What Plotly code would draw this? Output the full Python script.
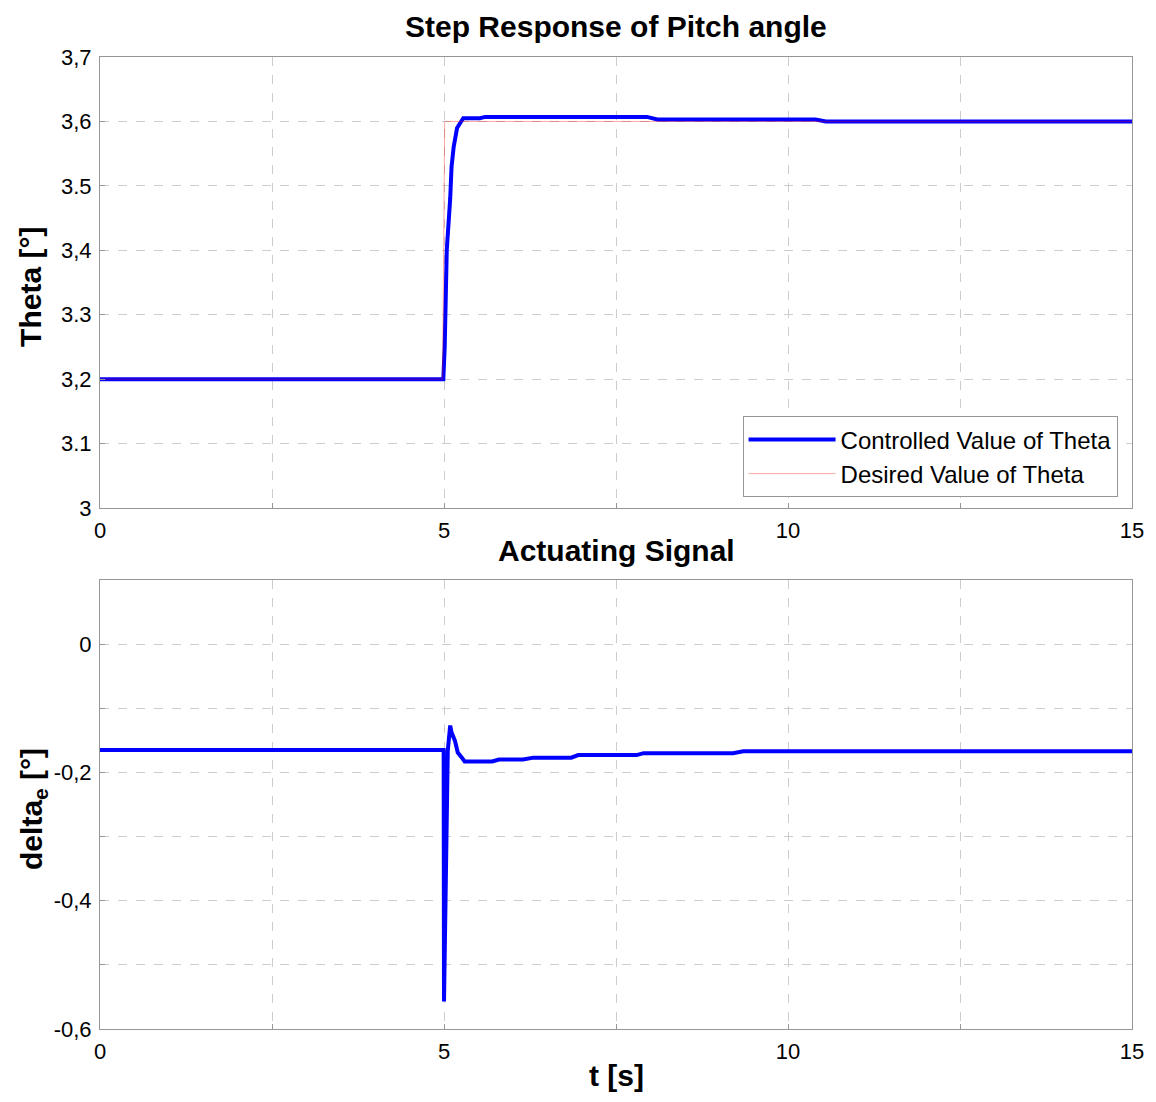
import plotly.graph_objects as go

# ---- Data ----
t_theta = [0, 4.99, 5.01, 5.03, 5.04, 5.09, 5.11, 5.14, 5.19, 5.28, 5.52, 5.6, 7.95, 8.1, 10.4, 10.55, 15]
theta_ctrl = [3.2, 3.2, 3.25, 3.32, 3.40, 3.48, 3.53, 3.56, 3.59, 3.605, 3.605, 3.607, 3.607, 3.603, 3.603, 3.600, 3.600]

t_des = [0, 4.98, 5.01, 15]
theta_des = [3.2, 3.2, 3.6, 3.6]

t_delta = [0, 4.995, 5.0, 5.015, 5.04, 5.055, 5.09, 5.11, 5.16, 5.2, 5.26, 5.30, 5.70, 5.80,
           6.15, 6.30, 6.85, 6.95, 7.8, 7.9, 9.2, 9.35, 15]
delta_e = [-0.165, -0.165, -0.557, -0.44, -0.244, -0.166, -0.127, -0.138, -0.151, -0.169, -0.177,
           -0.183, -0.183, -0.180, -0.180, -0.177, -0.177, -0.173, -0.173, -0.170, -0.170, -0.167, -0.167]

x_ticks = [0, 2.5, 5, 7.5, 10, 12.5, 15]
x_ticktext = ["0", "", "5", "", "10", "", "15"]
y1_ticks = [3.0, 3.1, 3.2, 3.3, 3.4, 3.5, 3.6, 3.7]
y1_ticktext = ["3", "3.1", "3,2", "3.3", "3,4", "3.5", "3,6", "3,7"]
y2_ticks = [-0.6, -0.5, -0.4, -0.3, -0.2, -0.1, 0.0, 0.1]
y2_ticktext = ["-0,6", "", "-0,4", "", "-0,2", "", "0", ""]

FONT = "Liberation Sans, Arial, Helvetica, sans-serif"
grid = dict(showgrid=True, gridcolor="rgb(205,205,205)", griddash="dash", gridwidth=1,
            showline=True, linecolor="rgb(150,150,150)", linewidth=1, mirror=True,
            ticks="inside", ticklen=5, tickcolor="rgb(150,150,150)", zeroline=False,
            ticklabelstandoff=3, automargin=False,
            tickfont=dict(size=22, color="black", family=FONT))

fig = go.Figure()
fig.add_trace(go.Scatter(x=t_theta, y=theta_ctrl, mode="lines", name="Controlled Value of Theta",
                         line=dict(color="rgb(0,0,255)", width=4), xaxis="x", yaxis="y"))
fig.add_trace(go.Scatter(x=t_des, y=theta_des, mode="lines", name="Desired Value of Theta",
                         line=dict(color="rgba(255,0,0,0.35)", width=1), xaxis="x", yaxis="y"))
fig.add_trace(go.Scatter(x=t_delta, y=delta_e, mode="lines", showlegend=False,
                         line=dict(color="rgb(0,0,255)", width=4), xaxis="x2", yaxis="y2"))

# page has an 8px body margin, so the figure is 1140x1086 placed at (8,8)
fig.update_layout(
    width=1140, height=1086,
    margin=dict(l=92, r=16, t=49, b=65, autoexpand=False),
    paper_bgcolor="white", plot_bgcolor="white",
    font=dict(family=FONT, color="black"),
    xaxis=dict(domain=[0, 1], range=[0, 15], tickvals=x_ticks, ticktext=x_ticktext,
               anchor="y", **grid),
    yaxis=dict(domain=[0.536, 1], range=[3.0, 3.7], tickvals=y1_ticks, ticktext=y1_ticktext,
               anchor="x", **grid),
    xaxis2=dict(domain=[0, 1], range=[0, 15], tickvals=x_ticks, ticktext=x_ticktext,
                anchor="y2", **grid),
    yaxis2=dict(domain=[0, 0.462], range=[-0.6, 0.1], tickvals=y2_ticks, ticktext=y2_ticktext,
                anchor="x2", **grid),
    legend=dict(x=0.986, y=0.547, xanchor="right", yanchor="bottom",
                bordercolor="rgb(150,150,150)", borderwidth=1, bgcolor="white",
                font=dict(size=24, family=FONT, color="black"), itemwidth=87),
    showlegend=True,
)

ann = [
    dict(text="<b>Step Response of Pitch angle</b>", x=0.5, y=1.031, yanchor="middle", font=dict(size=30)),
    dict(text="<b>Actuating Signal</b>", x=0.5, y=0.4918, yanchor="middle", font=dict(size=30)),
    dict(text="<b>t [s]</b>", x=0.5, y=-0.0669, yanchor="bottom", font=dict(size=30)),
    dict(text="<b>Theta [°]</b>", x=-0.0669, y=0.7634, yanchor="middle", font=dict(size=30), textangle=-90),
    dict(text="<b>delta<sub>e</sub> [°]</b>", x=-0.065, y=0.2263, yanchor="middle", font=dict(size=30), textangle=-90),
]
for a in ann:
    fig.add_annotation(xref="paper", yref="paper", showarrow=False, xanchor="center", **a)

fig.write_html("out.html")
